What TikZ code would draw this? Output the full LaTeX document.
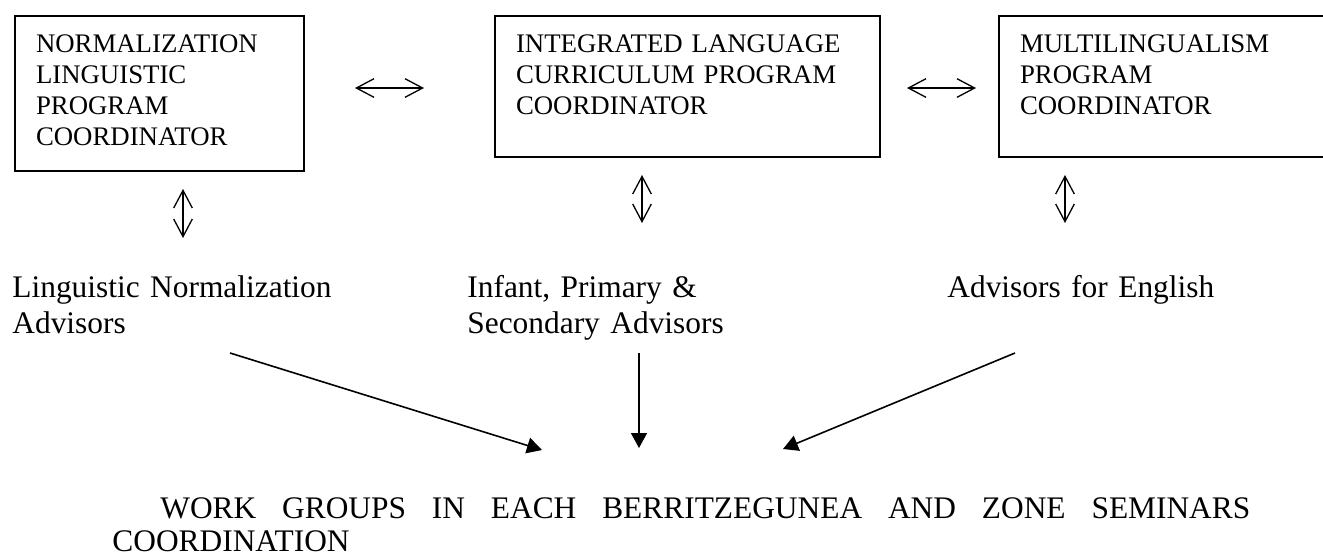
\documentclass[tikz,border=0pt]{standalone}
\usepackage{fontspec}
\setmainfont{Liberation Serif}
\usetikzlibrary{arrows.meta}

\tikzset{
	coordbox/.style={draw, line width=1pt, anchor=base west, align=left, inner xsep=10.5pt, inner ysep=0pt, text height=18pt, font=\fontsize{13.4}{15.5}\selectfont},
	advlabel/.style={anchor=base west, inner sep=0pt, align=left, text width=180pt, font=\fontsize{15.7}{18.2}\selectfont},
	link/.style={line width=0.65pt, {Straight Barb[length=8.8pt,width=9.3pt]}-{Straight Barb[length=8.8pt,width=9.3pt]}},
	feed/.style={line width=0.8pt, -{Triangle[length=7.5pt,width=8pt]}}
}

\begin{document}
\begin{tikzpicture}[x=0.5pt,y=-0.5pt]
		\useasboundingbox (0,0) rectangle (1323,554);

		\node[coordbox, text width=123.5pt, text depth=59.5pt] (A) at (14,52) {NORMALIZATION\\LINGUISTIC\\PROGRAM\\COORDINATOR};
		\node[coordbox, text width=171.5pt, text depth=52.5pt] (B) at (494,52) {INTEGRATED LANGUAGE\\CURRICULUM PROGRAM\\COORDINATOR};
		\node[coordbox, text width=150pt, text depth=52.5pt] (C) at (998,52) {MULTILINGUALISM\\PROGRAM\\COORDINATOR};

		\node[advlabel] (D) at (12,297) {Linguistic Normalization\\Advisors};
		\node[advlabel] (E) at (467,297) {Infant, Primary \&\\Secondary Advisors};
		\node[advlabel] (F) at (947,297) {Advisors for English};

		\node[advlabel, text width=569pt, font=\fontsize{15.7}{16.8}\selectfont] (G) at (112,518) {\hspace*{24pt}\makebox[545pt]{WORK\hfill GROUPS\hfill IN\hfill EACH\hfill BERRITZEGUNEA\hfill AND\hfill ZONE\hfill SEMINARS}\\COORDINATION};

		\coordinate (h1) at (355,88);
		\coordinate (h2) at (424,88);
		\coordinate (h3) at (907,88);
		\coordinate (h4) at (976,88);

		\coordinate (v1) at (183,189);
		\coordinate (v2) at (183,238);
		\coordinate (v3) at (642,175);
		\coordinate (v4) at (642,223);
		\coordinate (v5) at (1065,175);
		\coordinate (v6) at (1065,223);

		\coordinate (a1) at (230,353);
		\coordinate (a2) at (542,450);
		\coordinate (a3) at (639,353);
		\coordinate (a4) at (639,448);
		\coordinate (a5) at (1015,353);
		\coordinate (a6) at (783,449);

		\draw[link] (h1) -- (h2);
		\draw[link] (h3) -- (h4);
		\draw[link] (v1) -- (v2);
		\draw[link] (v3) -- (v4);
		\draw[link] (v5) -- (v6);

		\draw[feed] (a1) -- (a2);
		\draw[feed] (a3) -- (a4);
		\draw[feed] (a5) -- (a6);
	\end{tikzpicture}
\end{document}
